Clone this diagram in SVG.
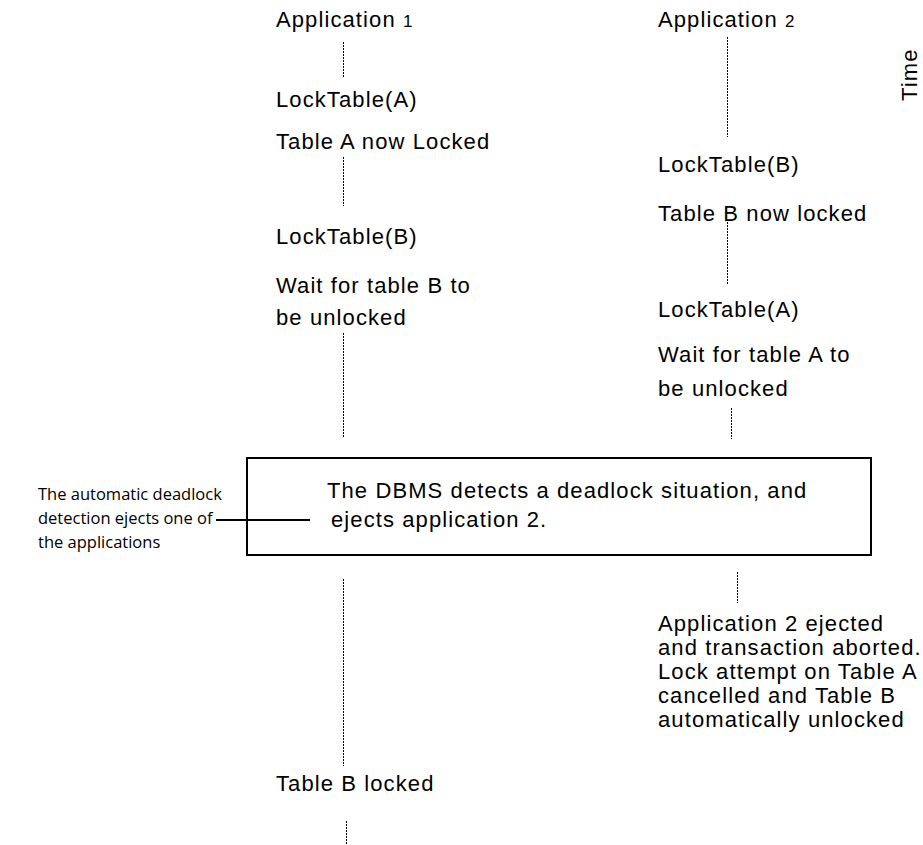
<svg xmlns="http://www.w3.org/2000/svg" width="923" height="845" viewBox="0 0 923 845">
  <style>
    .t { font-family: "Liberation Sans", Arial, sans-serif; font-size: 22px; letter-spacing: 1.1px; fill: #000; }
    .note { font-family: "Open Sans", "Noto Sans", sans-serif; font-size: 16.5px; fill: #000; }
    .dot { stroke: #000; stroke-width: 1; stroke-dasharray: 2 1; fill: none; shape-rendering: crispEdges; }
    .solid { stroke: #000; stroke-width: 2; fill: none; }
  </style>

  <!-- timelines and leader line -->
  <g id="connectors">
    <line class="dot" x1="343.5" y1="42" x2="343.5" y2="78"/>
    <line class="dot" x1="343.5" y1="157" x2="343.5" y2="206"/>
    <line class="dot" x1="343.5" y1="333" x2="343.5" y2="438"/>
    <line class="dot" x1="343.5" y1="579" x2="343.5" y2="766"/>
    <line class="dot" x1="346.5" y1="821" x2="346.5" y2="845"/>
    <line class="dot" x1="727.5" y1="37" x2="727.5" y2="137"/>
    <line class="dot" x1="727.5" y1="222" x2="727.5" y2="284"/>
    <line class="dot" x1="731.5" y1="408" x2="731.5" y2="439"/>
    <line class="dot" x1="737.5" y1="572" x2="737.5" y2="603"/>
    <line class="solid" x1="216" y1="520" x2="310" y2="520" stroke-width="1.5"/>
  </g>

  <g id="time-axis">
    <text class="t" transform="translate(917,101) rotate(-90)">Time</text>
  </g>

  <g id="app1">
    <text class="t" x="276" y="27">Application <tspan font-size="17">1</tspan></text>
    <text class="t" x="276" y="107">LockTable(A)</text>
    <text class="t" x="276" y="149">Table A now Locked</text>
    <text class="t" x="276" y="244">LockTable(B)</text>
    <text class="t" x="276" y="293">Wait for table B to</text>
    <text class="t" x="276" y="325">be unlocked</text>
  </g>

  <g id="app2">
    <text class="t" x="658" y="27">Application <tspan font-size="17">2</tspan></text>
    <text class="t" x="658" y="172">LockTable(B)</text>
    <text class="t" x="658" y="221">Table B now locked</text>
    <text class="t" x="658" y="317">LockTable(A)</text>
    <text class="t" x="658" y="362">Wait for table A to</text>
    <text class="t" x="658" y="396">be unlocked</text>
  </g>

  <g id="dbms">
    <rect class="solid" x="247" y="458" width="624" height="97"/>
    <text class="t" x="327" y="498">The DBMS detects a deadlock situation, and</text>
    <text class="t" x="331" y="527">ejects application 2.</text>
  </g>

  <g id="detection-note">
    <text class="note" x="38" y="500">The automatic deadlock</text>
    <text class="note" x="38" y="524">detection ejects one of</text>
    <text class="note" x="38" y="548">the applications</text>
  </g>

  <g id="app2-ejected">
    <text class="t" x="658" y="631">Application 2 ejected</text>
    <text class="t" x="658" y="655">and transaction aborted.</text>
    <text class="t" x="658" y="679">Lock attempt on Table A</text>
    <text class="t" x="658" y="703">cancelled and Table B</text>
    <text class="t" x="658" y="727">automatically unlocked</text>
  </g>

  <g id="app1-locked">
    <text class="t" x="276" y="791">Table B locked</text>
  </g>
</svg>
